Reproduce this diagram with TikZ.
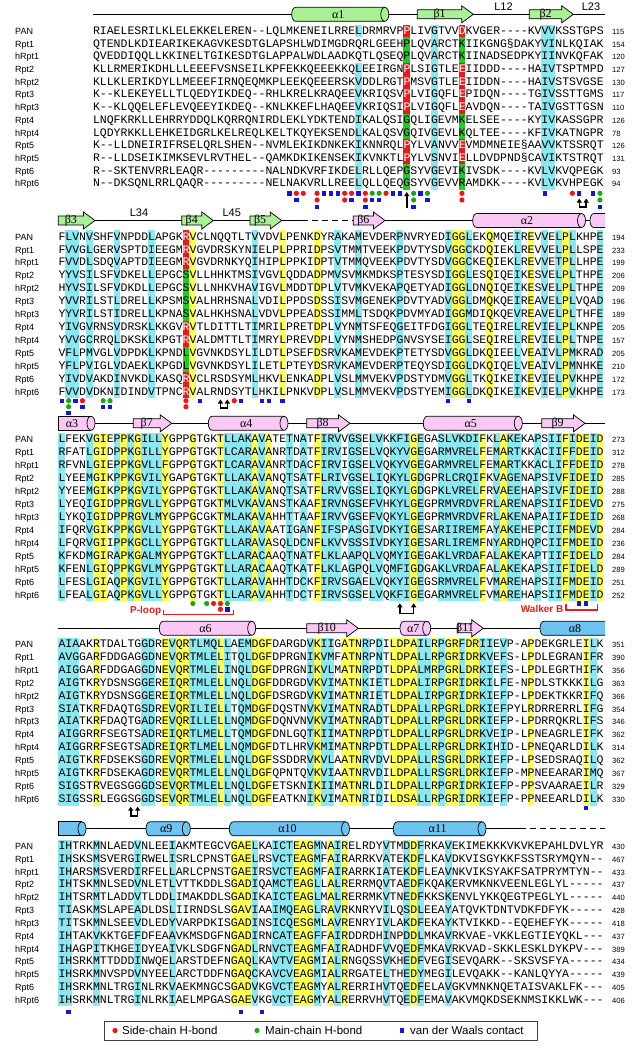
\documentclass[tikz,border=0pt]{standalone}
\usepackage{fontspec}
\setmainfont{Liberation Sans}
\newfontfamily\seqfont{Liberation Mono}
\newfontfamily\grkfont{Liberation Serif}
\usepackage{xcolor}
\usetikzlibrary{arrows.meta}

\definecolor{hlcyan}{RGB}{140,232,240}
\definecolor{hlyellow}{RGB}{255,255,90}
\definecolor{hlred}{RGB}{235,25,25}
\definecolor{hlgreen}{RGB}{30,205,30}
\definecolor{ssgreen}{RGB}{170,240,150}
\definecolor{sspink}{RGB}{250,200,245}
\definecolor{ssblue}{RGB}{110,195,240}
\definecolor{mkblue}{RGB}{20,20,220}
\definecolor{mkred}{RGB}{240,20,20}
\definecolor{mkgreen}{RGB}{20,170,20}
\definecolor{motifred}{RGB}{230,30,30}

% alignment grid: column c starts at x = 58.3 + 6.9c
\newcommand{\hlcols}[4]{\foreach \c in {#2} {\fill[#1] ({58.3+6.9*\c},#3) rectangle ({58.3+6.9*(\c+1)},#4);}}
\newcommand{\hlcell}[4]{\fill[#1] ({58.3+6.9*#2},{#3-#4/2}) rectangle ++(6.9,#4);}
\newcommand{\wh}[1]{\textcolor{white}{#1}}
% helix: left end, right end, y, colour, label, name
\newcommand{\helix}[6]{%
  \filldraw[ssline, fill=#4] (#2,#3-7) -- (#1+4,#3-7) .. controls (#1-1.33,#3-7) and (#1-1.33,#3+7) .. (#1+4,#3+7) -- (#2,#3+7);
  \filldraw[ssline, fill=#4] (#2,#3) ellipse[x radius=4, y radius=7];
  \node[sslabel] (#6) at ({(#1+#2)/2},#3) {#5};}
% strand: tail, tip, y, colour, label, name
\newcommand{\strand}[6]{%
  \filldraw[ssline, fill=#4] (#1,#3-4.5) -- (#2-11.5,#3-4.5) -- (#2-11.5,#3-8.5) -- (#2,#3) -- (#2-11.5,#3+8.5) -- (#2-11.5,#3+4.5) -- (#1,#3+4.5) -- cycle;
  \node[sslabel] (#6) at ({(#1+#2-11.5)/2},#3) {#5};}
% contact markers: column, y
\newcommand{\bsq}[2]{\fill[mkblue] ({61.75+6.9*#1-2.2},{#2-2.2}) rectangle ++(4.4,4.4);}
\newcommand{\rdot}[2]{\fill[mkred] ({61.75+6.9*#1},{#2}) circle[radius=2.6];}
\newcommand{\gdot}[2]{\fill[mkgreen] ({61.75+6.9*#1},{#2}) circle[radius=2.6];}

\begin{document}
\begin{tikzpicture}[x=1pt, y=-1pt,
    seqtext/.style={anchor=base west, inner sep=0pt, font=\fontsize{11.5}{12}\seqfont},
    rowname/.style={anchor=base west, inner sep=0pt, font=\fontsize{9}{10}\selectfont},
    rownum/.style={anchor=base west, inner sep=0pt, font=\fontsize{7.6}{9}\selectfont},
    sslabel/.style={inner sep=0pt, font=\fontsize{12}{12}\grkfont},
    looplabel/.style={inner sep=0pt, font=\fontsize{11}{11}\selectfont},
    motif/.style={inner sep=0pt, text=motifred, font=\fontsize{10}{10}\selectfont\bfseries},
    motifline/.style={draw=motifred, line width=1.3pt},
    ssline/.style={line width=0.7pt},
    uparrow/.style={-{Triangle[length=4pt,width=5pt]}, line width=1.5pt},
    dblarrow/.style={{Triangle[length=4pt,width=5pt]}-{Triangle[length=4pt,width=5pt]}, line width=1.5pt},
    legtext/.style={anchor=west, inner sep=0pt, font=\fontsize{11.5}{12}\selectfont},
  ]
  \useasboundingbox[fill=white] (0,0) rectangle (641,1050);

  % ---------- block 1 ----------
  \hlcols{hlcyan}{54,70,71}{24.65}{189.75}
  \hlcols{hlcyan}{43}{24.65}{37.35}
  \hlcols{hlcyan}{43}{62.75}{189.75}
  \foreach \r in {0,3,4,5,6,9,10} {\hlcell{hlred}{50}{31+12.7*\r}{12.7} \hlcell{hlred}{58}{31+12.7*\r}{12.7}}
  \foreach \r in {1,2,7,8,11,12} {\hlcell{hlgreen}{50}{31+12.7*\r}{12.7} \hlcell{hlgreen}{58}{31+12.7*\r}{12.7}}

  \draw[ssline] (92.8,14.3) -- (605,14.3);
  \helix{291.7}{384.8}{14.3}{ssgreen}{α1}{a1}
  \strand{417.3}{473.3}{14.3}{ssgreen}{β1}{b1}
  \strand{529.3}{573.3}{14.3}{ssgreen}{β2}{b2}
  \node[looplabel] (l12) at (503.5,6.5) {L12};
  \node[looplabel] (l23) at (591,6.5) {L23};

  \foreach \nm/\sq/\nr [count=\i from 0] in {
    PAN/RIAELESRILKLELEKKELEREN--LQLMKENEILRRELDRMRVP\wh{P}LIVGTVV\wh{D}KVGER----KVVVKSSTGPS/115,
    Rpt1/QTENDLKDIEARIKEKAGVKESDTGLAPSHLWDIMGDRQRLGEEHPLQVARCTKIIKGNG§DAKYVINLKQIAK/154,
    hRpt1/QVEDDIQQLLKKINELTGIKESDTGLAPPALWDLAADKQTLQSEQPLQVARCTKIINADSEDPKYIINVKQFAK/120,
    Rpt2/KLLRMERIKDHLLLEEEFVSNSEILKPFEKKQEEEKKQLEEIRGN\wh{P}LSIGTLE\wh{E}IIDDD----HAIVTSPTMPD/127,
    hRpt2/KLLKLERIKDYLLMEEEFIRNQEQMKPLEEKQEEERSKVDDLRGT\wh{P}MSVGTLE\wh{E}IIDDN----HAIVSTSVGSE/130,
    Rpt3/K--KLEKEYELLTLQEDYIKDEQ--RHLKRELKRAQEEVKRIQSV\wh{P}LVIGQFL\wh{E}PIDQN----TGIVSSTTGMS/117,
    hRpt3/K--KLQQELEFLEVQEEYIKDEQ--KNLKKEFLHAQEEVKRIQSI\wh{P}LVIGQFL\wh{E}AVDQN----TAIVGSTTGSN/110,
    Rpt4/LNQFKRKLLEHRRYDDQLKQRRQNIRDLEKLYDKTENDIKALQSIGQLIGEVMKELSEE----KYIVKASSGPR/126,
    hRpt4/LQDYRKKLLEHKEIDGRLKELREQLKELTKQYEKSENDLKALQSVGQIVGEVLKQLTEE----KFIVKATNGPR/78,
    Rpt5/K--LLDNEIRIFRSELQRLSHEN--NVMLEKIKDNKEKIKNNRQL\wh{P}YLVANVV\wh{E}VMDMNEIE§AAVVKTSSRQT/126,
    hRpt5/R--LLDSEIKIMKSEVLRVTHEL--QAMKDKIKENSEKIKVNKTL\wh{P}YLVSNVI\wh{E}LLDVDPND§CAVIKTSTRQT/131,
    Rpt6/R--SKTENVRRLEAQR---------NALNDKVRFIKDELRLLQEPGSYVGEVIKIVSDK----KVLVKVQPEGK/93,
    hRpt6/N--DKSQNLRRLQAQR---------NELNAKVRLLREELQLLQEQGSYVGEVVRAMDKK----KVLVKVHPEGK/94}
  {
    \pgfmathsetmacro\yy{31+12.7*\i+3.4}
    \node[rowname] (na-\i) at (15,\yy) {\nm};
    \node[seqtext] (sa-\i) at (92.8,\yy) {\sq};
    \node[rownum] (ca-\i) at (612,\yy) {\nr};
  }
  \foreach \c/\r in {33/0,34/1,37/2,38/0,39/0,40/0,42/1,43/0,44/2,45/1,46/1,48/0,49/0,51/2,52/0,53/1,70/0,75/0,77/0,78/2} {\bsq{\c}{193.3+6.7*\r}}
  \foreach \c/\r in {34/0,35/0,37/0,37/1,41/0,41/1,42/0,44/0,44/1,47/0,58/0,58/1,74/0} {\rdot{\c}{193.3+6.7*\r}}
  \foreach \c/\r in {45/0,46/0,51/0,51/1,53/0,78/0,78/1} {\gdot{\c}{193.3+6.7*\r}}
  \draw[uparrow] (406.75,208) -- (406.75,192);
  \draw[dblarrow] (579.25,198.5) -- (579.25,207) -- (586.15,207) -- (586.15,198.5);

  % ---------- block 2 ----------
  \hlcols{hlyellow}{19,32,37,57,58,62,68,73}{230.24}{398.2}
  \hlcols{hlcyan}{1,2,4,8,13,28,40,43,49,56,59,66,70,72,74,78}{230.24}{398.2}
  \foreach \r in {0,1,2,7,8,11,12} {\hlcell{hlred}{18}{236.7+12.92*\r}{12.92}}
  \foreach \r in {3,4,5,6,9,10} {\hlcell{hlgreen}{18}{236.7+12.92*\r}{12.92}}

  \draw[ssline] (58.3,220.5) -- (302,220.5);
  \draw[ssline, dash pattern=on 6pt off 4pt] (302,220.5) -- (353.3,220.5);
  \draw[ssline] (353.3,220.5) -- (605,220.5);
  \strand{58.3}{95}{220.5}{ssgreen}{β3}{b3}
  \strand{181.7}{213.3}{220.5}{ssgreen}{β4}{b4}
  \strand{250}{281.7}{220.5}{ssgreen}{β5}{b5}
  \strand{353.3}{385}{220.5}{sspink}{β6}{b6}
  \helix{472.7}{581.5}{220.5}{sspink}{α2}{a2}
  \filldraw[ssline, fill=sspink] (605,213.5) -- (594,213.5) .. controls (588.67,213.5) and (588.67,227.5) .. (594,227.5) -- (605,227.5);
  \node[looplabel] (l34) at (139,213) {L34};
  \node[looplabel] (l45) at (231.7,212.5) {L45};

  \foreach \nm/\sq/\nr [count=\i from 0] in {
    PAN/FLVNVSHFVNPDDLAPGK\wh{R}VCLNQQTLTVVDVLPENKDYRAKAMEVDERPNVRYEDIGGLEKQMQEIREVVELPLKHPE/194,
    Rpt1/FVVGLGERVSPTDIEEGM\wh{R}VGVDRSKYNIELPLPPRIDPSVTMMTVEEKPDVTYSDVGGCKDQIEKLREVVELPLLSPE/233,
    hRpt1/FVVDLSDQVAPTDIEEGM\wh{R}VGVDRNKYQIHIPLPPKIDPTVTMMQVEEKPDVTYSDVGGCKEQIEKLREVVETPLLHPE/199,
    Rpt2/YYVSILSFVDKELLEPGCSVLLHHKTMSIVGVLQDDADPMVSVMKMDKSPTESYSDIGGLESQIQEIKESVELPLTHPE/206,
    hRpt2/HYVSILSFVDKDLLEPGCSVLLNHKVHAVIGVLMDDTDPLVTVMKVEKAPQETYADIGGLDNQIQEIKESVELPLTHPE/209,
    Rpt3/YVVRILSTLDRELLKPSMSVALHRHSNALVDILPPDSDSSISVMGENEKPDVTYADVGGLDMQKQEIREAVELPLVQAD/196,
    hRpt3/YYVRILSTIDRELLKPNASVALHKHSNALVDVLPPEADSSIMMLTSDQKPDVMYADIGGMDIQKQEVREAVELPLTHFE/189,
    Rpt4/YIVGVRNSVDRSKLKKGV\wh{R}VTLDITTLTIMRILPRETDPLVYNMTSFEQGEITFDGIGGLTEQIRELREVIELPLKNPE/205,
    hRpt4/YVVGCRRQLDKSKLKPGT\wh{R}VALDMTTLTIMRYLPREVDPLVYNMSHEDPGNVSYSEIGGLSEQIRELREVIELPLTNPE/157,
    Rpt5/VFLPMVGLVDPDKLKPNDLVGVNKDSYLILDTLPSEFDSRVKAMEVDEKPTETYSDVGGLDKQIEELVEAIVLPMKRAD/205,
    hRpt5/YFLPVIGLVDAEKLKPGDLVGVNKDSYLILETLPTEYDSRVKAMEVDERPTEQYSDIGGLDKQIQELVEAIVLPMNHKE/210,
    Rpt6/YIVDVAKDINVKDLKASQ\wh{R}VCLRSDSYMLHKVLENKADPLVSLMMVEKVPDSTYDMVGGLTKQIKEIKEVIELPVKHPE/172,
    hRpt6/FVVDVDKNIDINDVTPNC\wh{R}VALRNDSYTLHKILPNKVDPLVSLMMVEKVPDSTYEMIGGLDKQIKEIKEVIELPVKHPE/173}
  {
    \pgfmathsetmacro\yy{236.7+12.92*\i+3.4}
    \node[rowname] (nb-\i) at (15,\yy) {\nm};
    \node[seqtext] (sb-\i) at (58.3,\yy) {\sq};
    \node[rownum] (cb-\i) at (612,\yy) {\nr};
  }
  \foreach \c/\r in {0/0,1/2,2/0,3/1,6/1,7/1,20/0,26/0,29/0,30/0,32/0,56/0,59/0} {\bsq{\c}{400.7+6*\r}}
  \foreach \c/\r in {3/0,18/0,18/1,25/0} {\rdot{\c}{400.7+6*\r}}
  \foreach \c/\r in {1/0,1/1,6/0,7/0} {\gdot{\c}{400.7+6*\r}}
  \draw[dblarrow] (220.45,399.5) -- (220.45,408) -- (227.35,408) -- (227.35,399.5);

  % ---------- block 3 ----------
  \hlcols{hlyellow}{5,6,9,11,15,...,23,28,30,37,51,61,64,73,75,76,78}{432.8}{601.4}
  \hlcols{hlcyan}{0,4,8,10,12,13,14,24,25,26,27,29,33,35,38,39,40,42,43,45,46,48,49,50,52,55,56,57,58,59,60,63,65,66,69,71,72,74,77}{432.8}{601.4}

  \draw[ssline] (58.3,423.3) -- (605,423.3);
  \filldraw[ssline, fill=sspink] (91,430.3) -- (58.3,430.3) -- (58.3,416.3) -- (91,416.3);
  \filldraw[ssline, fill=sspink] (91,423.3) ellipse[x radius=4, y radius=7];
  \node[sslabel] (a3) at (72,423.3) {α3};
  \strand{133.3}{171.7}{423.3}{sspink}{β7}{b7}
  \helix{208.3}{284}{423.3}{sspink}{α4}{a4}
  \strand{306.7}{350}{423.3}{sspink}{β8}{b8}
  \helix{423.3}{518.3}{423.3}{sspink}{α5}{a5}
  \strand{541.7}{585}{423.3}{sspink}{β9}{b9}

  \foreach \nm/\sq/\nr [count=\i from 0] in {
    PAN/LFEKVGIEPPKGILLYGPPGTGKTLLAKAVATETNATFIRVVGSELVKKFIGEGASLVKDIFKLAKEKAPSIIFIDEID/273,
    Rpt1/RFATLGIDPPKGILLYGPPGTGKTLCARAVANRTDATFIRVIGSELVQKYVGEGARMVRELFEMARTKKACIIFFDEID/312,
    hRpt1/RFVNLGIEPPKGVLLFGPPGTGKTLCARAVANRTDACFIRVIGSELVQKYVGEGARMVRELFEMARTKKACLIFFDEID/278,
    Rpt2/LYEEMGIKPPKGVILYGAPGTGKTLLAKAVANQTSATFLRIVGSELIQKYLGDGPRLCRQIFKVAGENAPSIVFIDEID/285,
    hRpt2/YYEEMGIKPPKGVILYGPPGTGKTLLAKAVANQTSATFLRVVGSELIQKYLGDGPKLVRELFRVAEEHAPSIVFIDEID/288,
    Rpt3/LYEQIGIDPPRGVLLYGPPGTGKTMLVKAVANSTKAAFIRVNGSEFVHKYLGEGPRMVRDVFRLARENAPSIIFIDEVD/275,
    hRpt3/LYKQIGIDPPRGVLMYGPPGCGKTMLAKAVAHHTTAAFIRVVGSEFVQKYLGEGPRMVRDVFRLAKENAPAIIFIDEID/268,
    Rpt4/IFQRVGIKPPKGVLLYGPPGTGKTLLAKAVAATIGANFIFSPASGIVDKYIGESARIIREMFAYAKEHEPCIIFMDEVD/284,
    hRpt4/LFQRVGIIPPKGCLLYGPPGTGKTLLARAVASQLDCNFLKVVSSSIVDKYIGESARLIREMFNYARDHQPCIIFMDEID/236,
    Rpt5/KFKDMGIRAPKGALMYGPPGTGKTLLARACAAQTNATFLKLAAPQLVQMYIGEGAKLVRDAFALAKEKAPTIIFIDELD/284,
    hRpt5/KFENLGIQPPKGVLMYGPPGTGKTLLARACAAQTKATFLKLAGPQLVQMFIGDGAKLVRDAFALAKEKAPSIIFIDELD/289,
    Rpt6/LFESLGIAQPKGVILYGPPGTGKTLLARAVAHHTDCKFIRVSGAELVQKYIGEGSRMVRELFVMAREHAPSIIFMDEID/251,
    hRpt6/LFEALGIAQPKGVLLYGPPGTGKTLLARAVAHHTDCTFIRVSGSELVQKFIGEGARMVRELFVMAREHAPSIIFMDEID/252}
  {
    \pgfmathsetmacro\yy{439.3+12.97*\i+3.4}
    \node[rowname] (nc-\i) at (15,\yy) {\nm};
    \node[seqtext] (sc-\i) at (58.3,\yy) {\sq};
    \node[rownum] (cc-\i) at (612,\yy) {\nr};
  }
  \foreach \c/\r in {24/1,75/0,76/0} {\bsq{\c}{603.5+5.8*\r}}
  \foreach \c/\r in {22/0,23/0,23/1} {\rdot{\c}{603.5+5.8*\r}}
  \foreach \c/\r in {19/0,21/0,24/0} {\gdot{\c}{603.5+5.8*\r}}
  \draw[dblarrow] (399.85,603.3) -- (399.85,613.3) -- (413.65,613.3) -- (413.65,603.3);
  \node[motif, anchor=east] (ploop) at (161.5,611) {P-loop};
  \draw[motifline] (163.5,609.5) -- (163.5,614.5) -- (233.5,614.5) -- (233.5,609.5);
  \node[motif, anchor=east] (walkerb) at (563.5,609) {Walker B};
  \draw[motifline] (566,603.5) -- (566,610) -- (597.5,610) -- (597.5,603.5);

  % ---------- block 4 ----------
  \hlcols{hlyellow}{5,15,17,18,23,28,29,30,37,41,42,43,48,49,50,51,54,56,57,59,60,68,76}{637.5}{805.5}
  \hlcols{hlcyan}{0,1,2,12,13,16,19,20,21,22,24,26,27,36,38,39,44,46,52,53,55,58,61,62,64,77}{637.5}{805.5}

  \draw[ssline] (58.3,628.3) -- (605,628.3);
  \helix{159.3}{251.7}{628.3}{sspink}{α6}{a6}
  \strand{306.7}{358.3}{628.3}{sspink}{β10}{b10}
  \helix{400}{426.7}{628.3}{sspink}{α7}{a7}
  \strand{458.3}{483.3}{628.3}{sspink}{β11}{b11}
  \filldraw[ssline, fill=ssblue] (605,621.3) -- (544,621.3) .. controls (538.67,621.3) and (538.67,635.3) .. (544,635.3) -- (605,635.3);
  \node[sslabel] (a8) at (575,628.3) {α8};

  \foreach \nm/\sq/\nr [count=\i from 0] in {
    PAN/AIAAKRTDALTGGDREVQRTLMQLLAEMDGFDARGDVKIIGATNRPDILDPAILRPGRFDRIIEVP-APDEKGRLEILK/351,
    Rpt1/AVGGARFDDGAGGDNEVQRTMLELITQLDGFDPRGNIKVMFATNRPNTLDPALLRPGRIDRKVEFS-LPDLEGRANIFR/390,
    hRpt1/AIGGARFDDGAGGDNEVQRTMLELINQLDGFDPRGNIKVLMATNRPDTLDPALMRPGRLDRKIEFS-LPDLEGRTHIFK/356,
    Rpt2/AIGTKRYDSNSGGEREIQRTMLELLNQLDGFDDRGDVKVIMATNKIETLDPALIRPGRIDRKILFE-NPDLSTKKKILG/363,
    hRpt2/AIGTKRYDSNSGGEREIQRTMLELLNQLDGFDSRGDVKVIMATNRIETLDPALIRPGRIDRKIEFP-LPDEKTKKRIFQ/366,
    Rpt3/SIATKRFDAQTGSDREVQRILIELLTQMDGFDQSTNVKVIMATNRADTLDPALLRPGRLDRKIEFPYLRDRRERRLIFG/354,
    hRpt3/AIATKRFDAQTGADREVQRILLELLNQMDGFDQNVNVKVIMATNRADTLDPALLRPGRLDRKIEFP-LPDRRQKRLIFS/346,
    Rpt4/AIGGRRFSEGTSADREIQRTLMELLTQMDGFDNLGQTKIIMATNRPDTLDPALLRPGRLDRKVEIP-LPNEAGRLEIFK/362,
    hRpt4/AIGGRRFSEGTSADREIQRTLMELLNQMDGFDTLHRVKMIMATNRPDTLDPALLRPGRLDRKIHID-LPNEQARLDILK/314,
    Rpt5/AIGTKRFDSEKSGDREVQRTMLELLNQLDGFSSDDRVKVLAATNRVDVLDPALLRSGRLDRKIEFP-LPSEDSRAQILQ/362,
    hRpt5/AIGTKRFDSEKAGDREVQRTMLELLNQLDGFQPNTQVKVIAATNRVDILDPALLRSGRLDRKIEFP-MPNEEARARIMQ/367,
    Rpt6/SIGSTRVEGSGGGDSEVQRTMLELLNQLDGFETSKNIKIIMATNRLDILDPALLRPGRIDRKIEFP-PPSVAARAEILR/329,
    hRpt6/SIGSSRLEGGSGGDSEVQRTMLELLNQLDGFEATKNIKVIMATNRIDILDSALLRPGRIDRKIEFP-PPNEEARLDILK/330}
  {
    \pgfmathsetmacro\yy{644+12.92*\i+3.4}
    \node[rowname] (nd-\i) at (15,\yy) {\nm};
    \node[seqtext] (sd-\i) at (58.3,\yy) {\sq};
    \node[rownum] (cd-\i) at (612,\yy) {\nr};
  }
  \bsq{76}{807.7}
  \draw[dblarrow] (130.75,806.7) -- (130.75,816.2) -- (137.65,816.2) -- (137.65,806.7);

  % ---------- block 5 ----------
  \hlcols{hlyellow}{25,26,27,34,35,36,39,41,51}{839.6}{1006.4}
  \hlcols{hlcyan}{0,1,5,11,16,28,31,32,33,37,40,47,50,52,56}{839.6}{1006.4}

  \draw[ssline] (58.3,828.8) -- (520,828.8);
  \draw[ssline, dash pattern=on 6pt off 4pt] (520,828.8) -- (605,828.8);
  \filldraw[ssline, fill=ssblue] (82,835.8) -- (58.3,835.8) -- (58.3,821.8) -- (82,821.8);
  \filldraw[ssline, fill=ssblue] (82,828.8) ellipse[x radius=4, y radius=7];
  \helix{146}{186.3}{828.8}{ssblue}{α9}{a9}
  \helix{229.3}{345.5}{828.8}{ssblue}{α10}{a10}
  \helix{393.3}{482}{828.8}{ssblue}{α11}{a11}

  \foreach \nm/\sq/\nr [count=\i from 0] in {
    PAN/IHTRKMNLAEDVNLEEIAKMTEGCVGAELKAICTEAGMNAIRELRDYVTMDDFRKAVEKIMEKKKVKVKEPAHLDVLYR/430,
    Rpt1/IHSKSMSVERGIRWELISRLCPNSTGAELRSVCTEAGMFAIRARRKVATEKDFLKAVDKVISGYKKFSSTSRYMQYN--/467,
    hRpt1/IHARSMSVERDIRFELLARLCPNSTGAEIRSVCTEAGMFAIRARRKIATEKDFLEAVNKVIKSYAKFSATPRYMTYN--/433,
    Rpt2/IHTSKMNLSEDVNLETLVTTKDDLSGADIQAMCTEAGLLALRERRMQVTAEDFKQAKERVMKNKVEENLEGLYL-----/437,
    hRpt2/IHTSRMTLADDVTLDDLIMAKDDLSGADIKAICTEAGLMALRERRMKVTNEDFKKSKENVLYKKQEGTPEGLYL-----/440,
    Rpt3/TIASKMSLAPEADLDSLIIRNDSLSGAVIAAIMQEAGLRAVRKNRYVILQSDLEEAYATQVKTDNTVDKFDFYK-----/428,
    hRpt3/TITSKMNLSEEVDLEDYVARPDKISGADINSICQESGMLAVRENRYIVLAKDFEKAYKTVIKKD--EQEHEFYK-----/418,
    Rpt4/IHTAKVKKTGEFDFEAAVKMSDGFNGADIRNCATEAGFFAIRDDRDHINPDDLMKAVRKVAE-VKKLEGTIEYQKL---/437,
    hRpt4/IHAGPITKHGEIDYEAIVKLSDGFNGADLRNVCTEAGMFAIRADHDFVVQEDFMKAVRKVAD-SKKLESKLDYKPV---/389,
    Rpt5/IHSRKMTTDDDINWQELARSTDEFNGAQLKAVTVEAGMIALRNGQSSVKHEDFVEGISEVQARK--SKSVSFYA-----/434,
    hRpt5/IHSRKMNVSPDVNYEELARCTDDFNGAQCKAVCVEAGMIALRRGATELTHEDYMEGILEVQAKK--KANLQYYA-----/439,
    Rpt6/IHSRKMNLTRGINLRKVAEKMNGCSGADVKGVCTEAGMYALRERRIHVTQEDFELAVGKVMNKNQETAISVAKLFK---/405,
    hRpt6/IHSRKMNLTRGINLRKIAELMPGASGAEVKGVCTEAGMYALRERRVHVTQEDFEMAVAKVMQKDSEKNMSIKKLWK---/406}
  {
    \pgfmathsetmacro\yy{846+12.83*\i+3.4}
    \node[rowname] (ne-\i) at (15,\yy) {\nm};
    \node[seqtext] (se-\i) at (58.3,\yy) {\sq};
    \node[rownum] (ce-\i) at (612,\yy) {\nr};
  }
  \foreach \c in {1,26,29} {\bsq{\c}{1011.7}}

  % ---------- legend ----------
  \draw[line width=1pt, draw=black!75] (104,1021) rectangle (537,1040);
  \fill[mkred] (115,1030.5) circle[radius=2.6];
  \node[legtext] (leg1) at (122,1030.5) {Side-chain H-bond};
  \fill[mkgreen] (257,1030.5) circle[radius=2.6];
  \node[legtext] (leg2) at (265,1030.5) {Main-chain H-bond};
  \fill[mkblue] (399.5,1028.3) rectangle ++(4.4,4.4);
  \node[legtext] (leg3) at (410,1030.5) {van der Waals contact};
\end{tikzpicture}
\end{document}
